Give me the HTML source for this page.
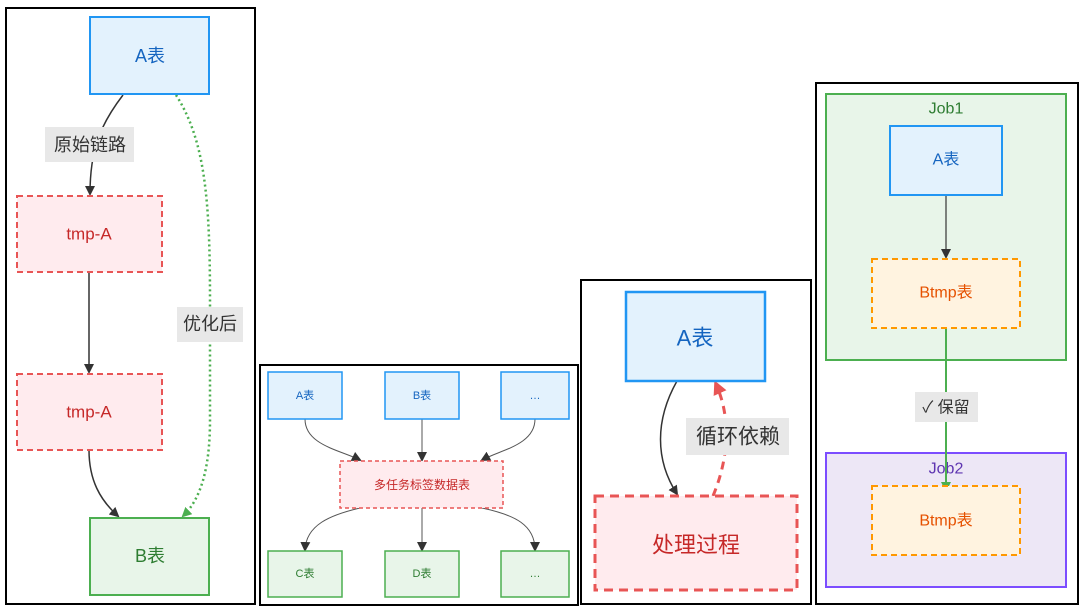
<!DOCTYPE html>
<html><head><meta charset="utf-8"><style>
html,body{margin:0;padding:0;background:#fff;width:1080px;height:610px;overflow:hidden}
text{font-family:"Liberation Sans","Noto Sans CJK SC",sans-serif;text-anchor:middle;dominant-baseline:central}
</style></head><body>
<svg width="1080" height="610" xmlns="http://www.w3.org/2000/svg">
<defs>
<marker id="ab" markerWidth="10" markerHeight="10" refX="8" refY="5" orient="auto" markerUnits="userSpaceOnUse"><path d="M0,0 L10,5 L0,10z" fill="#333"/></marker>
<marker id="ag" markerWidth="10" markerHeight="10" refX="8" refY="5" orient="auto" markerUnits="userSpaceOnUse"><path d="M0,0 L10,5 L0,10z" fill="#4caf50"/></marker>
<marker id="ar" markerWidth="14" markerHeight="14" refX="10" refY="7" orient="auto" markerUnits="userSpaceOnUse"><path d="M0,0 L14,7 L0,14z" fill="#e85555"/></marker>
</defs>
<!-- Panel 1 -->
<rect x="6" y="8" width="249" height="596" fill="#fff" stroke="#000" stroke-width="2"/>
<path d="M123,95 C100,125 90,150 90,194" fill="none" stroke="#333" stroke-width="1.5" marker-end="url(#ab)"/>
<path d="M89,272 L89,372" fill="none" stroke="#333" stroke-width="1.5" marker-end="url(#ab)"/>
<path d="M89,450 C89,480 100,500 118,516" fill="none" stroke="#333" stroke-width="1.5" marker-end="url(#ab)"/>
<path d="M176,95 C205,140 210,200 210,300 L210,420 C210,470 200,500 183,516" fill="none" stroke="#4caf50" stroke-width="2.5" stroke-dasharray="2,3" marker-end="url(#ag)"/>
<rect x="90" y="17" width="119" height="77" fill="#e3f2fd" stroke="#2196f3" stroke-width="2"/>
<text x="150" y="56" font-size="18" fill="#1565c0">A表</text>
<rect x="45" y="127" width="89" height="35" fill="#e8e8e8"/>
<text x="90" y="145" font-size="18" fill="#333">原始链路</text>
<rect x="17" y="196" width="145" height="76" fill="#ffebee" stroke="#e85555" stroke-width="2" stroke-dasharray="6,4"/>
<text x="89" y="234" font-size="17" fill="#c62828">tmp-A</text>
<rect x="17" y="374" width="145" height="76" fill="#ffebee" stroke="#e85555" stroke-width="2" stroke-dasharray="6,4"/>
<text x="89" y="412" font-size="17" fill="#c62828">tmp-A</text>
<rect x="177" y="307" width="66" height="35" fill="#e8e8e8"/>
<text x="210" y="324" font-size="18" fill="#333">优化后</text>
<rect x="90" y="518" width="119" height="77" fill="#e8f5e9" stroke="#4caf50" stroke-width="2"/>
<text x="150" y="556" font-size="18" fill="#2e7d32">B表</text>
<!-- Panel 2 -->
<rect x="260" y="365" width="318" height="240" fill="#fff" stroke="#000" stroke-width="2"/>
<g stroke="#555" stroke-width="1" fill="none" marker-end="url(#ab)">
<path d="M305,419 C305,445 340,450 360,460"/>
<path d="M422,419 L422,460"/>
<path d="M535,419 C535,445 500,450 482,460"/>
<path d="M360,508 C330,515 306,525 305,550"/>
<path d="M422,508 L422,550"/>
<path d="M482,508 C515,515 535,525 535,550"/>
</g>
<g stroke="#2196f3" stroke-width="1.5" fill="#e3f2fd">
<rect x="268" y="372" width="74" height="47"/><rect x="385" y="372" width="74" height="47"/><rect x="501" y="372" width="68" height="47"/>
</g>
<g font-size="11" fill="#1565c0"><text x="305" y="396">A表</text><text x="422" y="396">B表</text><text x="535" y="396">…</text></g>
<rect x="340" y="461" width="163" height="47" fill="#ffebee" stroke="#e85555" stroke-width="1.5" stroke-dasharray="4,3"/>
<text x="422" y="485" font-size="12" fill="#c62828">多任务标签数据表</text>
<g stroke="#4caf50" stroke-width="1.5" fill="#e8f5e9">
<rect x="268" y="551" width="74" height="46"/><rect x="385" y="551" width="74" height="46"/><rect x="501" y="551" width="68" height="46"/>
</g>
<g font-size="11" fill="#2e7d32"><text x="305" y="574">C表</text><text x="422" y="574">D表</text><text x="535" y="574">…</text></g>
<!-- Panel 3 -->
<rect x="581" y="280" width="230" height="324" fill="#fff" stroke="#000" stroke-width="2"/>
<path d="M677,381 C655,420 655,460 677,494" fill="none" stroke="#333" stroke-width="1.5" marker-end="url(#ab)"/>
<path d="M713,496 C728,460 732,420 716,384" fill="none" stroke="#e85555" stroke-width="3" stroke-dasharray="8,6" marker-end="url(#ar)"/>
<rect x="626" y="292" width="139" height="89" fill="#e3f2fd" stroke="#2196f3" stroke-width="2.5"/>
<text x="695" y="338" font-size="22" fill="#1565c0">A表</text>
<rect x="686" y="418" width="103" height="37" fill="#e8e8e8"/>
<text x="738" y="437" font-size="21" fill="#333">循环依赖</text>
<rect x="595" y="496" width="202" height="94" fill="#ffebee" stroke="#e85555" stroke-width="3" stroke-dasharray="9,6"/>
<text x="696" y="545" font-size="22" fill="#c62828">处理过程</text>
<!-- Panel 4 -->
<rect x="816" y="83" width="262" height="521" fill="#fff" stroke="#000" stroke-width="2"/>
<rect x="826" y="94" width="240" height="266" fill="#e8f5e9" stroke="#4caf50" stroke-width="2"/>
<text x="946" y="109" font-size="16" fill="#2e7d32">Job1</text>
<rect x="826" y="453" width="240" height="134" fill="#ede7f6" stroke="#7c4dff" stroke-width="2"/>
<text x="946" y="469" font-size="16" fill="#5e35b1">Job2</text>
<path d="M946,195 L946,257" stroke="#333" stroke-width="1.2" fill="none" marker-end="url(#ab)"/>
<path d="M946,328 L946,490" stroke="#4caf50" stroke-width="2" fill="none" marker-end="url(#ag)"/>
<rect x="890" y="126" width="112" height="69" fill="#e3f2fd" stroke="#2196f3" stroke-width="2"/>
<text x="946" y="160" font-size="16" fill="#1565c0">A表</text>
<rect x="872" y="259" width="148" height="69" fill="#fff3e0" stroke="#ff9800" stroke-width="2" stroke-dasharray="6,4"/>
<text x="946" y="293" font-size="16" fill="#e65100">Btmp表</text>
<rect x="915" y="392" width="63" height="30" fill="#e8e8e8"/>
<text x="946" y="408" font-size="16" fill="#333">✓ 保留</text>
<rect x="872" y="486" width="148" height="69" fill="#fff3e0" stroke="#ff9800" stroke-width="2" stroke-dasharray="6,4"/>
<text x="946" y="521" font-size="16" fill="#e65100">Btmp表</text>
</svg>
</body></html>
